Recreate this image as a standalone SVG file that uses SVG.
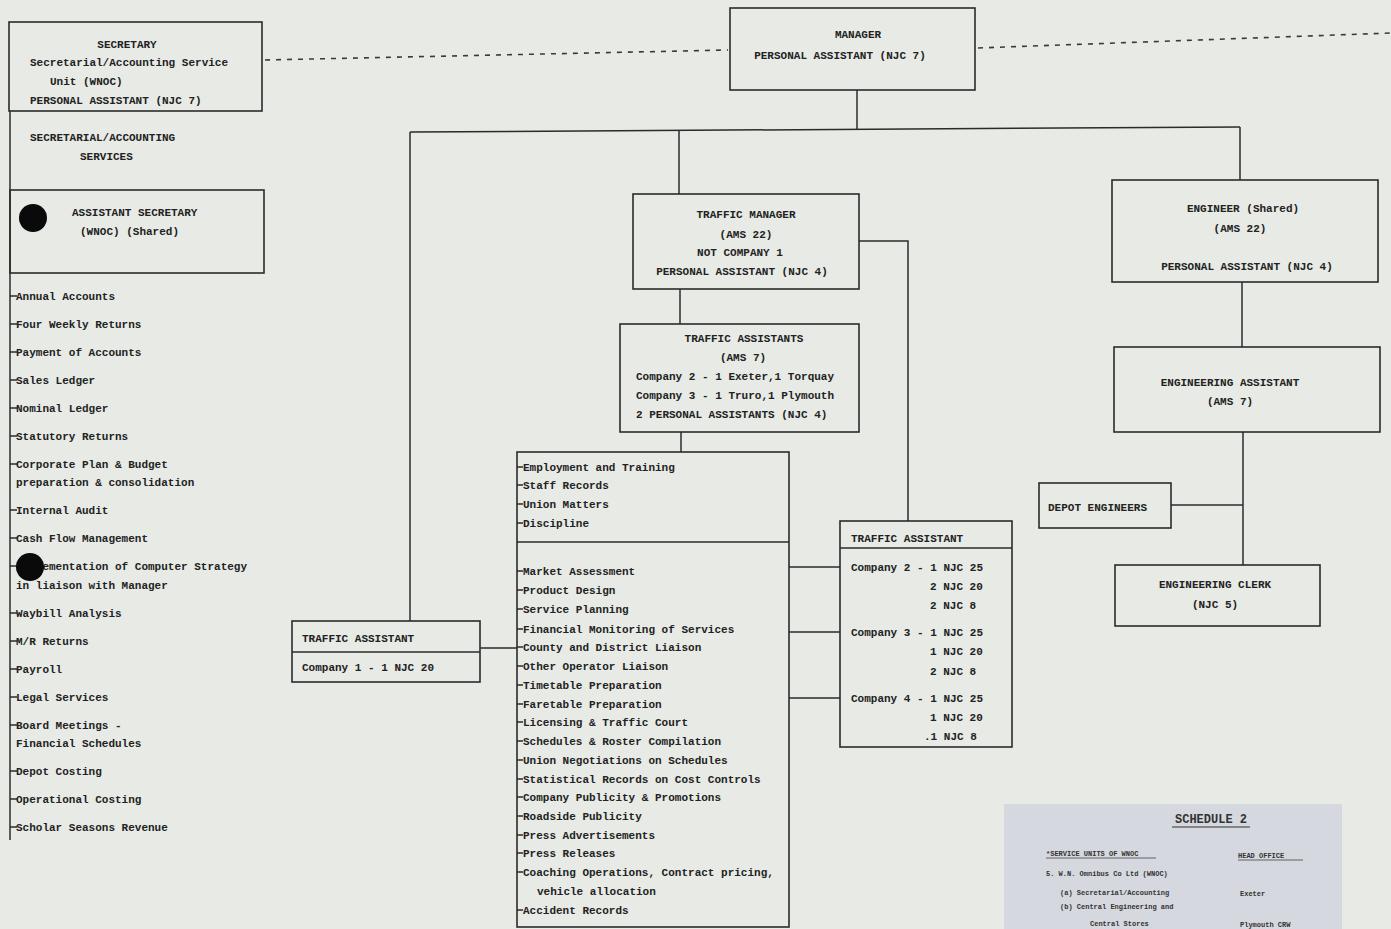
<svg xmlns="http://www.w3.org/2000/svg" width="1391" height="929" viewBox="0 0 1391 929">
<style>
.bg{fill:#e7eae5}
.box{fill:none;stroke:#2b2b2b;stroke-width:1.6}
.ln{fill:none;stroke:#2b2b2b;stroke-width:1.5}
.dash{fill:none;stroke:#3a3a3a;stroke-width:1.6;stroke-dasharray:5 6}
.t{font-family:"Liberation Mono","DejaVu Sans Mono",monospace;font-size:11px;font-weight:bold;fill:#222}
.c{text-anchor:middle}
.s{font-family:"Liberation Mono","DejaVu Sans Mono",monospace;font-size:7px;font-weight:bold;fill:#333}
</style>
<rect class="bg" x="0" y="0" width="1391" height="929"/>

<g id="connectors">
<path class="dash" d="M265,60 L728,50"/>
<path class="dash" d="M978,48 L1391,33"/>
<path class="ln" d="M857,90 V130"/>
<path class="ln" d="M410,132 L1240,127"/>
<path class="ln" d="M410,132 V621"/>
<path class="ln" d="M679,131 V194"/>
<path class="ln" d="M1240,127 V180"/>
<path class="ln" d="M680,289 V324"/>
<path class="ln" d="M859,241 H908 V521"/>
<path class="ln" d="M681,432 V452"/>
<path class="ln" d="M480,648 H517"/>
<path class="ln" d="M789,567 H840 M789,632 H840 M789,698 H840"/>
<path class="ln" d="M1242,282 V347"/>
<path class="ln" d="M1243,432 V565"/>
<path class="ln" d="M1171,505 H1243"/>
</g>

<g id="secretary">
<rect class="box" x="9" y="22" width="253" height="89"/>
<text class="t c" x="127" y="48">SECRETARY</text>
<text class="t" x="30" y="66">Secretarial/Accounting Service</text>
<text class="t" x="50" y="85">Unit (WNOC)</text>
<text class="t" x="30" y="104">PERSONAL ASSISTANT (NJC 7)</text>
</g>

<g id="sec-services">
<path class="ln" d="M10,111 V840"/>
<text class="t" x="30" y="141">SECRETARIAL/ACCOUNTING</text>
<text class="t" x="80" y="160">SERVICES</text>
</g>

<g id="assistant-secretary">
<rect class="box" x="10" y="190" width="254" height="83"/>
<circle cx="33" cy="218" r="14" fill="#0a0a0a"/>
<text class="t" x="72" y="216">ASSISTANT SECRETARY</text>
<text class="t" x="80" y="235">(WNOC)  (Shared)</text>
</g>

<g id="sec-list">
<path class="ln" d="M10,296 h7 M10,324 h7 M10,352 h7 M10,380 h7 M10,408 h7 M10,436 h7 M10,464 h7 M10,510 h7 M10,538 h7 M10,566 h7 M10,613 h7 M10,641 h7 M10,669 h7 M10,697 h7 M10,725 h7 M10,771 h7 M10,799 h7 M10,827 h7"/>
<text class="t" x="16" y="300">Annual Accounts</text>
<text class="t" x="16" y="328">Four Weekly Returns</text>
<text class="t" x="16" y="356">Payment of Accounts</text>
<text class="t" x="16" y="384">Sales Ledger</text>
<text class="t" x="16" y="412">Nominal Ledger</text>
<text class="t" x="16" y="440">Statutory Returns</text>
<text class="t" x="16" y="468">Corporate Plan &amp; Budget</text>
<text class="t" x="16" y="486">preparation &amp; consolidation</text>
<text class="t" x="16" y="514">Internal Audit</text>
<text class="t" x="16" y="542">Cash Flow Management</text>
<text class="t" x="16" y="570">Implementation of Computer Strategy</text>
<text class="t" x="16" y="589">in liaison with Manager</text>
<circle cx="30" cy="567" r="14" fill="#0a0a0a"/>
<text class="t" x="16" y="617">Waybill Analysis</text>
<text class="t" x="16" y="645">M/R Returns</text>
<text class="t" x="16" y="673">Payroll</text>
<text class="t" x="16" y="701">Legal Services</text>
<text class="t" x="16" y="729">Board Meetings -</text>
<text class="t" x="16" y="747">Financial Schedules</text>
<text class="t" x="16" y="775">Depot Costing</text>
<text class="t" x="16" y="803">Operational Costing</text>
<text class="t" x="16" y="831">Scholar Seasons Revenue</text>
</g>

<g id="manager">
<rect class="box" x="730" y="8" width="245" height="82"/>
<text class="t c" x="858" y="38">MANAGER</text>
<text class="t c" x="840" y="59">PERSONAL ASSISTANT (NJC 7)</text>
</g>

<g id="traffic-manager">
<rect class="box" x="633" y="194" width="226" height="95"/>
<text class="t c" x="746" y="218">TRAFFIC MANAGER</text>
<text class="t c" x="746" y="238">(AMS 22)</text>
<text class="t c" x="740" y="256">NOT COMPANY 1</text>
<text class="t c" x="742" y="275">PERSONAL ASSISTANT (NJC 4)</text>
</g>

<g id="traffic-assistants">
<rect class="box" x="620" y="324" width="239" height="108"/>
<text class="t c" x="744" y="342">TRAFFIC ASSISTANTS</text>
<text class="t c" x="743" y="361">(AMS 7)</text>
<text class="t" x="636" y="380">Company 2 - 1 Exeter,1 Torquay</text>
<text class="t" x="636" y="399">Company 3 - 1 Truro,1 Plymouth</text>
<text class="t" x="636" y="418">2 PERSONAL ASSISTANTS (NJC 4)</text>
</g>

<g id="traffic-list">
<rect class="box" x="517" y="452" width="272" height="475"/>
<path class="ln" d="M517,542 H789"/>
<path class="ln" d="M517,467 h6 M517,485 h6 M517,504 h6 M517,523 h6 M517,571 h6 M517,590 h6 M517,609 h6 M517,629 h6 M517,647 h6 M517,666 h6 M517,685 h6 M517,704 h6 M517,722 h6 M517,741 h6 M517,760 h6 M517,779 h6 M517,797 h6 M517,816 h6 M517,835 h6 M517,853 h6 M517,872 h6 M517,910 h6"/>
<text class="t" x="523" y="471">Employment and Training</text>
<text class="t" x="523" y="489">Staff Records</text>
<text class="t" x="523" y="508">Union Matters</text>
<text class="t" x="523" y="527">Discipline</text>
<text class="t" x="523" y="575">Market Assessment</text>
<text class="t" x="523" y="594">Product Design</text>
<text class="t" x="523" y="613">Service Planning</text>
<text class="t" x="523" y="633">Financial Monitoring of Services</text>
<text class="t" x="523" y="651">County and District Liaison</text>
<text class="t" x="523" y="670">Other Operator Liaison</text>
<text class="t" x="523" y="689">Timetable Preparation</text>
<text class="t" x="523" y="708">Faretable Preparation</text>
<text class="t" x="523" y="726">Licensing &amp; Traffic Court</text>
<text class="t" x="523" y="745">Schedules &amp; Roster Compilation</text>
<text class="t" x="523" y="764">Union Negotiations on Schedules</text>
<text class="t" x="523" y="783">Statistical Records on Cost Controls</text>
<text class="t" x="523" y="801">Company Publicity &amp; Promotions</text>
<text class="t" x="523" y="820">Roadside Publicity</text>
<text class="t" x="523" y="839">Press Advertisements</text>
<text class="t" x="523" y="857">Press Releases</text>
<text class="t" x="523" y="876">Coaching Operations, Contract pricing,</text>
<text class="t" x="537" y="895">vehicle allocation</text>
<text class="t" x="523" y="914">Accident Records</text>
</g>

<g id="traffic-assistant-1">
<rect class="box" x="292" y="621" width="188" height="61"/>
<path class="ln" d="M292,652 H480"/>
<text class="t" x="302" y="642">TRAFFIC ASSISTANT</text>
<text class="t" x="302" y="671">Company 1 - 1 NJC 20</text>
</g>

<g id="traffic-assistant-2">
<rect class="box" x="840" y="521" width="172" height="226"/>
<path class="ln" d="M840,548 H1012"/>
<text class="t" x="851" y="542">TRAFFIC ASSISTANT</text>
<text class="t" x="851" y="571">Company 2 - 1 NJC 25</text>
<text class="t" x="930" y="590">2 NJC 20</text>
<text class="t" x="930" y="609">2 NJC  8</text>
<text class="t" x="851" y="636">Company 3 - 1 NJC 25</text>
<text class="t" x="930" y="655">1 NJC 20</text>
<text class="t" x="930" y="675">2 NJC  8</text>
<text class="t" x="851" y="702">Company 4 - 1 NJC 25</text>
<text class="t" x="930" y="721">1 NJC 20</text>
<text class="t" x="924" y="740">.1 NJC  8</text>
</g>

<g id="engineer">
<rect class="box" x="1112" y="180" width="266" height="102"/>
<text class="t c" x="1243" y="212">ENGINEER (Shared)</text>
<text class="t c" x="1240" y="232">(AMS 22)</text>
<text class="t c" x="1247" y="270">PERSONAL ASSISTANT (NJC 4)</text>
</g>

<g id="engineering-assistant">
<rect class="box" x="1114" y="347" width="266" height="85"/>
<text class="t c" x="1230" y="386">ENGINEERING ASSISTANT</text>
<text class="t c" x="1230" y="405">(AMS 7)</text>
</g>

<g id="depot-engineers">
<rect class="box" x="1039" y="483" width="132" height="45"/>
<text class="t" x="1048" y="511">DEPOT ENGINEERS</text>
</g>

<g id="engineering-clerk">
<rect class="box" x="1115" y="565" width="205" height="61"/>
<text class="t c" x="1215" y="588">ENGINEERING CLERK</text>
<text class="t c" x="1215" y="608">(NJC 5)</text>
</g>

<g id="schedule-2">
<rect x="1004" y="804" width="338" height="125" fill="#d5d8de"/>
<text x="1211" y="823" text-anchor="middle" style="font-family:'Liberation Mono',monospace;font-size:12px;font-weight:bold;fill:#333">SCHEDULE 2</text>
<path d="M1172,827 H1250" stroke="#333" stroke-width="1"/>
<text class="s" x="1046" y="856">*SERVICE UNITS OF WNOC</text>
<path d="M1046,858 H1156" stroke="#444" stroke-width="0.8"/>
<text class="s" x="1238" y="858">HEAD OFFICE</text>
<path d="M1238,860 H1303" stroke="#444" stroke-width="0.8"/>
<text class="s" x="1046" y="876">5. W.N. Omnibus Co Ltd (WNOC)</text>
<text class="s" x="1060" y="895">(a) Secretarial/Accounting</text>
<text class="s" x="1240" y="896">Exeter</text>
<text class="s" x="1060" y="909">(b) Central Engineering and</text>
<text class="s" x="1090" y="926">Central Stores</text>
<text class="s" x="1240" y="927">Plymouth CRW</text>
</g>
</svg>
